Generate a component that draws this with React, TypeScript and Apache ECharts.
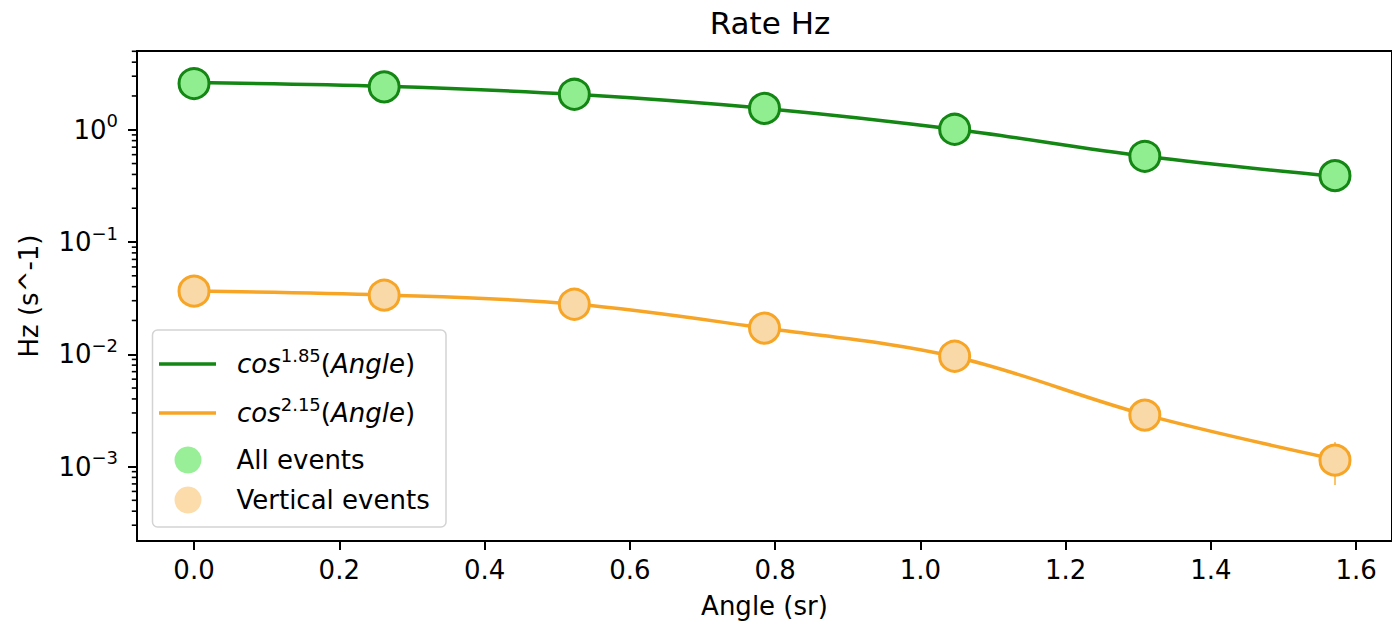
import React, { useEffect, useRef } from 'react';
import * as echarts from 'echarts';

// ---- data ----
const angles = [0, 0.2618, 0.5236, 0.7854, 1.0472, 1.309, 1.5708];
const allEvents = [2.58, 2.41, 2.07, 1.55, 1.01, 0.58, 0.39];
const verticalEvents = [0.0365, 0.0336, 0.0279, 0.0171, 0.0096, 0.00287, 0.00114];
const fitAll = [2.63, 2.44, 2.07, 1.55, 1.01, 0.58, 0.385];
const fitVertical = [0.0366, 0.0338, 0.028, 0.0171, 0.0095, 0.0029, 0.00116];
const verticalErrAngle = [1.5708];
const verticalErrLow = [0.000684];
const verticalErrHigh = [0.00165];

const xTicks = [0, 0.2, 0.4, 0.6, 0.8, 1.0, 1.2, 1.4, 1.6];
const yTicks = [0.001, 0.01, 0.1, 1];
const minorMantissas = [2, 3, 4, 5, 6, 7, 8, 9];
const minorDecades = [-4, -3, -2, -1, 0];

const X_MIN = -0.0785;
const X_MAX = 1.6493;
const Y_MIN = 2.17e-4;
const Y_MAX = 5.03;

const FONT = 'DejaVu Sans';
const GREEN_LINE = '#138613';
const GREEN_FILL = '#90ee90';
const ORANGE_LINE = '#f7a526';
const ORANGE_FILL = '#fad9a8';

export default function App() {
  const ref = useRef<HTMLDivElement>(null);

  useEffect(() => {
    if (!ref.current) return;
    const chart = echarts.init(ref.current, undefined, { renderer: 'svg' });

    const minorVals: number[][] = [];
    minorDecades.forEach((d) => {
      minorMantissas.forEach((m) => {
        const v = m * Math.pow(10, d);
        if (v > Y_MIN && v < Y_MAX) minorVals.push([X_MIN, v]);
      });
    });

    const mathRich = {
      it: { fontFamily: FONT, fontSize: 26, fontStyle: 'italic', color: '#000', lineHeight: 36 },
      rm: { fontFamily: FONT, fontSize: 26, color: '#000', lineHeight: 36 },
      sup: { fontFamily: FONT, fontSize: 18, color: '#000', lineHeight: 20, verticalAlign: 'top' },
    };
    const plainRich = {
      plain: { fontFamily: FONT, fontSize: 26, color: '#000' },
    };

    const option: any = {
      animation: false,
      backgroundColor: '#fff',
      title: {
        text: 'Rate Hz',
        left: 770,
        top: 7,
        textAlign: 'center',
        padding: 0,
        textStyle: { fontFamily: FONT, fontSize: 31, fontWeight: 'normal', color: '#000' },
      },
      grid: {
        left: 137,
        top: 51,
        right: -16,
        bottom: 83,
        show: true,
        borderColor: '#000',
        borderWidth: 2,
        backgroundColor: 'transparent',
      },
      xAxis: {
        type: 'value',
        min: X_MIN,
        max: X_MAX,
        name: 'Angle (sr)',
        nameLocation: 'middle',
        nameGap: 52,
        nameTextStyle: { fontFamily: FONT, fontSize: 26, color: '#000' },
        axisLine: { show: true, onZero: false, lineStyle: { color: '#000', width: 2 } },
        axisTick: { show: true, customValues: xTicks, length: 9, lineStyle: { color: '#000', width: 2 } },
        axisLabel: {
          customValues: xTicks,
          margin: 16,
          fontFamily: FONT,
          fontSize: 26,
          color: '#000',
          formatter: (v: number) => v.toFixed(1),
        },
        splitLine: { show: false },
      },
      yAxis: {
        type: 'log',
        logBase: 10,
        min: Y_MIN,
        max: Y_MAX,
        name: 'Hz (s^-1)',
        nameLocation: 'middle',
        nameGap: 95,
        nameTextStyle: { fontFamily: FONT, fontSize: 26, color: '#000' },
        axisLine: { show: true, onZero: false, lineStyle: { color: '#000', width: 2 } },
        axisTick: { show: true, customValues: yTicks, length: 9, lineStyle: { color: '#000', width: 2 } },
        axisLabel: {
          customValues: yTicks,
          margin: 19,
          formatter: (v: number) => {
            const e = Math.round(Math.log10(v));
            const s = e < 0 ? '\u2212' + -e : String(e);
            return `{b|10}{s|${s}}`;
          },
          rich: {
            b: { fontFamily: FONT, fontSize: 26, color: '#000', lineHeight: 36 },
            s: { fontFamily: FONT, fontSize: 18, color: '#000', lineHeight: 18, verticalAlign: 'top' },
          },
        },
        splitLine: { show: false },
      },
      legend: [
        {
          data: [
            { name: 'cos^1.85(Angle)', icon: 'rect', itemStyle: { color: GREEN_LINE } },
            { name: 'cos^2.15(Angle)', icon: 'rect', itemStyle: { color: ORANGE_LINE } },
          ],
          orient: 'vertical',
          left: 159,
          top: 346,
          padding: 0,
          itemGap: 18,
          itemWidth: 57,
          itemHeight: 3.5,
          selectedMode: false,
          z: 10,
          formatter: (name: string) => {
            const p = name.indexOf('^');
            const exp = name.slice(p + 1, name.indexOf('('));
            return `{it|cos}{sup|${exp}}{rm|(}{it|Angle}{rm|)}`;
          },
          textStyle: { padding: [0, 0, 0, 16], rich: mathRich },
        },
        {
          data: [
            { name: 'All events', icon: 'circle', itemStyle: { color: '#98ef98', borderWidth: 0 } },
            { name: 'Vertical events', icon: 'circle', itemStyle: { color: '#fcdcaa', borderWidth: 0 } },
          ],
          orient: 'vertical',
          left: 174.5,
          top: 446.5,
          padding: 0,
          itemGap: 13,
          itemWidth: 27,
          itemHeight: 27,
          selectedMode: false,
          z: 10,
          formatter: (name: string) => `{plain|${name}}`,
          textStyle: { padding: [0, 0, 0, 30], rich: plainRich },
        },
      ],
      graphic: [
        {
          type: 'rect',
          z: 5,
          shape: { x: 152.5, y: 330, width: 293.5, height: 197, r: 5 },
          style: { fill: 'rgba(255,255,255,0.8)', stroke: '#d3d3d3', lineWidth: 1.5 },
        },
      ],
      series: [
        {
          type: 'custom',
          name: 'minorTicks',
          silent: true,
          clip: false,
          data: minorVals,
          renderItem: (params: any, api: any) => {
            const p = api.coord([api.value(0), api.value(1)]);
            return {
              type: 'line',
              shape: { x1: p[0] - 5.2, y1: p[1], x2: p[0], y2: p[1] },
              style: { stroke: '#000', lineWidth: 1.6 },
            };
          },
          z: 1,
        },
        {
          type: 'custom',
          name: 'verticalErr',
          silent: true,
          data: verticalErrAngle.map((a, i) => [a, verticalErrLow[i], verticalErrHigh[i]]),
          encode: { x: 0, y: [1, 2] },
          renderItem: (params: any, api: any) => {
            const p1 = api.coord([api.value(0), api.value(1)]);
            const p2 = api.coord([api.value(0), api.value(2)]);
            return {
              type: 'line',
              shape: { x1: p1[0], y1: p1[1], x2: p2[0], y2: p2[1] },
              style: { stroke: '#f9c46a', lineWidth: 2 },
            };
          },
          z: 2,
        },
        {
          type: 'line',
          name: 'cos^1.85(Angle)',
          data: angles.map((a, i) => [a, fitAll[i]]),
          smooth: 0.35,
          showSymbol: false,
          symbol: 'none',
          lineStyle: { color: GREEN_LINE, width: 3.5 },
          itemStyle: { color: GREEN_LINE },
          z: 3,
        },
        {
          type: 'line',
          name: 'cos^2.15(Angle)',
          data: angles.map((a, i) => [a, fitVertical[i]]),
          smooth: 0.35,
          showSymbol: false,
          symbol: 'none',
          lineStyle: { color: ORANGE_LINE, width: 3.5 },
          itemStyle: { color: ORANGE_LINE },
          z: 3,
        },
        {
          type: 'scatter',
          name: 'All events',
          data: angles.map((a, i) => [a, allEvents[i]]),
          symbol: 'circle',
          symbolSize: 30,
          itemStyle: { color: GREEN_FILL, borderColor: GREEN_LINE, borderWidth: 3, opacity: 1 },
          z: 4,
        },
        {
          type: 'scatter',
          name: 'Vertical events',
          data: angles.map((a, i) => [a, verticalEvents[i]]),
          symbol: 'circle',
          symbolSize: 30,
          itemStyle: { color: ORANGE_FILL, borderColor: ORANGE_LINE, borderWidth: 3, opacity: 1 },
          z: 4,
        },
      ],
    };

    chart.setOption(option);
    return () => {
      chart.dispose();
    };
  }, []);

  return (
    <div
      ref={ref}
      style={{ position: 'fixed', left: 0, top: 0, width: 1392, height: 624, background: '#fff' }}
    />
  );
}
